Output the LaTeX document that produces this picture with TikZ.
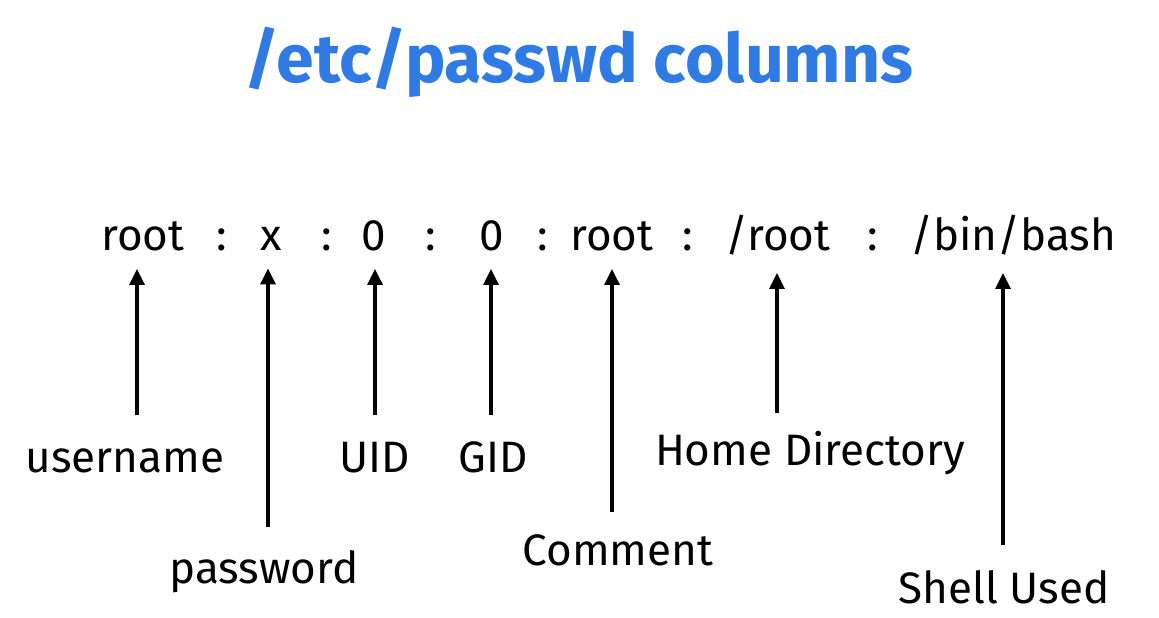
\documentclass[tikz,border=0pt]{standalone}
\usepackage{fontspec}
\setmainfont{Fira Sans}
\usetikzlibrary{arrows.meta}
\definecolor{titleblue}{RGB}{47,123,227}
\begin{document}
\begin{tikzpicture}[x=0.5pt,y=-0.5pt,
  field/.style={anchor=base,inner sep=0pt,font=\fontsize{22}{26}\selectfont},
  lbl/.style={anchor=base,inner sep=0pt,font=\fontsize{22}{26}\selectfont},
  arr/.style={line width=1.6pt,-{Triangle[width=7.5pt,length=8pt]},shorten >=9pt}]
\useasboundingbox (0,0) rectangle (1159,617);
\node[anchor=base,inner sep=0pt,text=titleblue,font=\fontsize{34}{40}\selectfont\bfseries] (title) at (579,82) {/etc/passwd columns};
% fields
\node[field] (f1) at (143,250) {root};
\node[field] (s1) at (222,250) {:};
\node[field] (f2) at (271,250) {x};
\node[field] (s2) at (327,250) {:};
\node[field] (f3) at (374,250) {0};
\node[field] (s3) at (431,250) {:};
\node[field] (f4) at (492,250) {0};
\node[field] (s4) at (543,250) {:};
\node[field] (f5) at (612,250) {root};
\node[field] (s5) at (688,250) {:};
\node[field] (f6) at (778,250) {/root};
\node[field] (s6) at (873,250) {:};
\node[field] (f7) at (1013,250) {/bin/bash};
% labels
\node[lbl] (l1) at (125,472) {username};
\node[lbl] (l2) at (264,583) {password};
\node[lbl] (l3) at (375,472) {UID};
\node[lbl] (l4) at (493,472) {GID};
\node[lbl] (l5) at (618,565) {Comment};
\node[lbl] (l6) at (810,465) {Home Directory};
\node[lbl] (l7) at (1004,603) {Shell Used};
% arrow tails
\coordinate (t1) at (137,415);
\coordinate (t2) at (268,527);
\coordinate (t3) at (375,415);
\coordinate (t4) at (491,415);
\coordinate (t5) at (612,512);
\coordinate (t6) at (777,413);
\coordinate (t7) at (1003,545);
\draw[arr] (t1) -- (t1 |- f1.south);
\draw[arr] (t2) -- (t2 |- f2.south);
\draw[arr] (t3) -- (t3 |- f3.south);
\draw[arr] (t4) -- (t4 |- f4.south);
\draw[arr] (t5) -- (t5 |- f5.south);
\draw[arr] (t6) -- (t6 |- f6.south);
\draw[arr] (t7) -- (t7 |- f7.south);
\end{tikzpicture}
\end{document}
